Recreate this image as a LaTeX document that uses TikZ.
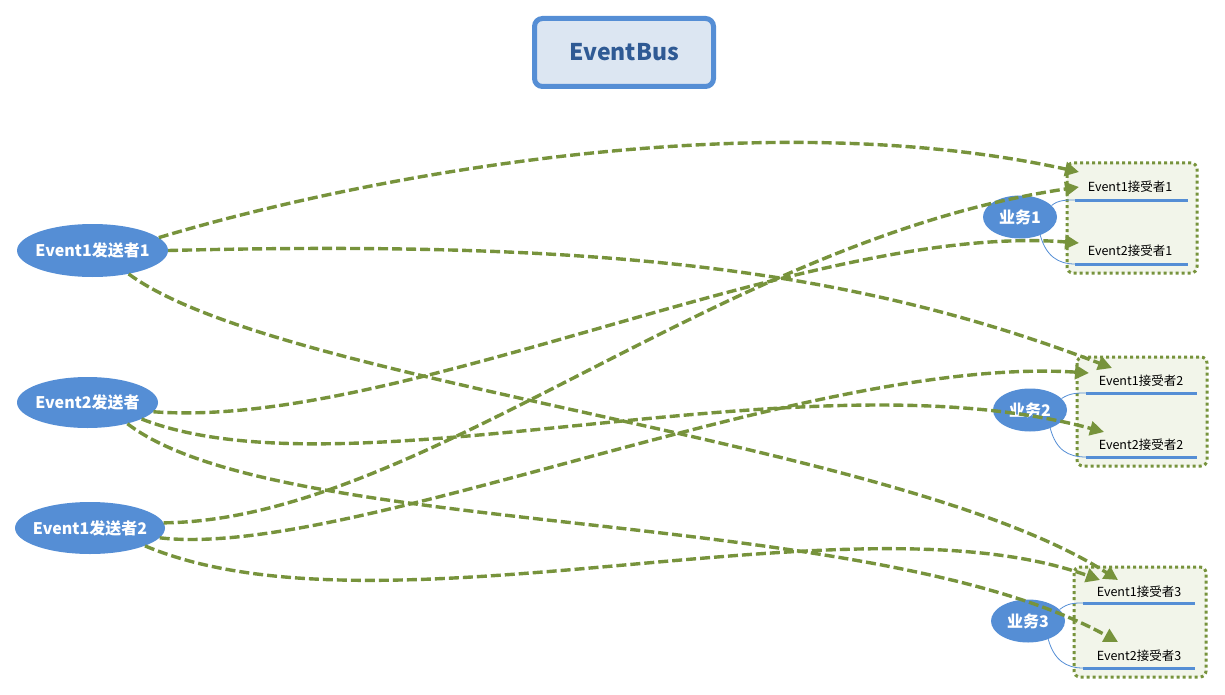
\documentclass[tikz,border=0pt]{standalone}
\usepackage{fontspec}
\newfontfamily\cjk{Noto Sans CJK SC}
\usetikzlibrary{shapes.geometric,arrows.meta}
\definecolor{grn}{HTML}{77933C}
\definecolor{blu}{HTML}{558ED5}
\definecolor{boxfill}{HTML}{F2F5EA}
\definecolor{busfill}{HTML}{DCE6F2}
\definecolor{bustext}{HTML}{2F5A94}
\tikzset{
  sender/.style={ellipse, fill=blu, text=white, inner sep=0pt,
    font=\cjk\bfseries\fontsize{16}{18}\selectfont},
  biz/.style={ellipse, fill=blu, text=white, inner sep=0pt,
    minimum width=74pt, minimum height=43pt,
    font=\cjk\bfseries\fontsize{16}{18}\selectfont},
  recv/.style={inner sep=0pt, text=black, font=\cjk\fontsize{12.5}{14}\selectfont},
  grp/.style={draw=grn, fill=boxfill, line width=3pt, dash pattern=on 3pt off 3pt,
    rounded corners=6pt},
  uline/.style={draw=blu, line width=3pt},
  link/.style={draw=blu, line width=0.8pt},
  flow/.style={draw=grn, line width=3.4pt, dash pattern=on 10pt off 4pt,
    -{Triangle[length=14pt,width=14pt]}},
}
\begin{document}
\begin{tikzpicture}[x=1pt,y=-1pt]
\useasboundingbox (0,0) rectangle (1225,695);

% title
\node[draw=blu, fill=busfill, line width=5pt, rounded corners=8pt,
  minimum width=179pt, minimum height=68pt, text=bustext,
  font=\cjk\bfseries\fontsize{23}{26}\selectfont] (bus) at (624,52.5) {EventBus};

% receiver groups
\path[grp] (1067,163) rectangle (1197,273);
\path[grp] (1077,357) rectangle (1207,466);
\path[grp] (1074,567) rectangle (1206,677);

\node[recv] (r11) at (1130,187) {Event1接受者1};
\node[recv] (r21) at (1130,251) {Event2接受者1};
\node[recv] (r12) at (1141,381) {Event1接受者2};
\node[recv] (r22) at (1141,445) {Event2接受者2};
\node[recv] (r13) at (1139,592) {Event1接受者3};
\node[recv] (r23) at (1139,656) {Event2接受者3};

\coordinate (u11a) at (1075,200); \coordinate (u11b) at (1188,200);
\coordinate (u21a) at (1075,264); \coordinate (u21b) at (1188,264);
\coordinate (u12a) at (1086,393); \coordinate (u12b) at (1197,393);
\coordinate (u22a) at (1086,457); \coordinate (u22b) at (1197,457);
\coordinate (u13a) at (1083,603); \coordinate (u13b) at (1195,603);
\coordinate (u23a) at (1083,668); \coordinate (u23b) at (1195,668);
\draw[uline] (u11a) -- (u11b);
\draw[uline] (u21a) -- (u21b);
\draw[uline] (u12a) -- (u12b);
\draw[uline] (u22a) -- (u22b);
\draw[uline] (u13a) -- (u13b);
\draw[uline] (u23a) -- (u23b);

% business ellipses
\node[biz] (b1) at (1020,217) {\makebox[0pt]{业务1}};
\node[biz] (b2) at (1030,410) {\makebox[0pt]{业务2}};
\node[biz] (b3) at (1028,621) {\makebox[0pt]{业务3}};

\draw[link] (b1.20) .. controls (1058,200) and (1066,200) .. (u11a);
\draw[link] (b1.-42) .. controls (1046,256) and (1058,264) .. (u21a);
\draw[link] (b2.20) .. controls (1070,393) and (1077,393) .. (u12a);
\draw[link] (b2.-42) .. controls (1056,450) and (1068,457) .. (u22a);
\draw[link] (b3.20) .. controls (1068,603) and (1074,603) .. (u13a);
\draw[link] (b3.-42) .. controls (1054,660) and (1066,668) .. (u23a);

% senders
\node[sender, minimum width=151pt, minimum height=53pt] (s1) at (92.5,250.5) {\makebox[0pt]{Event1发送者1}};
\node[sender, minimum width=141pt, minimum height=51pt] (s2) at (87.5,402.5) {\makebox[0pt]{Event2发送者}};
\node[sender, minimum width=150pt, minimum height=52pt] (s3) at (90,528) {\makebox[0pt]{Event1发送者2}};

% arrow end points
\coordinate (t11a) at (1079,172);
\coordinate (t11b) at (1079,187);
\coordinate (t21)  at (1079,243);
\coordinate (t12a) at (1112,368);
\coordinate (t12b) at (1089,373);
\coordinate (t22)  at (1104,432);
\coordinate (t13a) at (1118,580);
\coordinate (t13b) at (1100,580);
\coordinate (t23)  at (1118,642);

% flows
\draw[flow] (s1.11) .. controls (350,180) and (750,100) .. (t11a);
\draw[flow] (s1.east) .. controls (600,240) and (850,268) .. (t12a);
\draw[flow] (s1.-33) .. controls (280,385) and (900,440) .. (t13a);

\draw[flow] (s2.-8) .. controls (400,430) and (810,222) .. (t21);
\draw[flow] (s2.-17) .. controls (350,500) and (800,350) .. (t22);
\draw[flow] (s2.-28) .. controls (280,540) and (870,505) .. (t23);

\draw[flow] (s3.4) .. controls (420,520) and (720,240) .. (t11b);
\draw[flow] (s3.-8) .. controls (350,560) and (810,355) .. (t12b);
\draw[flow] (s3.-18) .. controls (380,645) and (850,490) .. (t13b);
\end{tikzpicture}
\end{document}
